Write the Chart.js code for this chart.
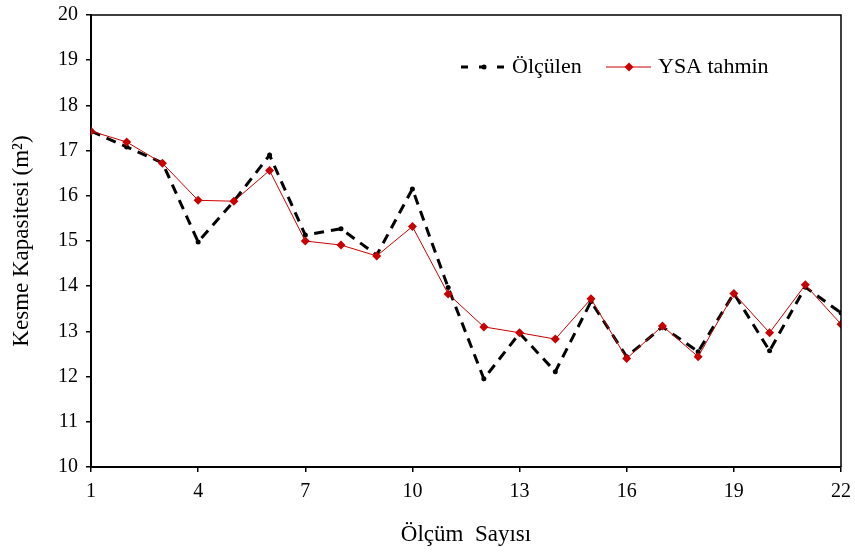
<!DOCTYPE html>
<html lang="tr">
<head>
  <meta charset="UTF-8" />
  <title>Kesme Kapasitesi</title>
  <script src="https://cdn.jsdelivr.net/npm/chart.js"></script>
  <style>
    html, body { margin: 0; padding: 0; background: #fff; }
    #wrap { width: 855px; height: 552px; }
  </style>
</head>
<body>
  <div id="wrap"><canvas id="chart" width="855" height="552"></canvas></div>

  <script>
    // measurement index 1..22
    const olcumNo = [1, 2, 3, 4, 5, 6, 7, 8, 9, 10, 11, 12, 13, 14, 15, 16, 17, 18, 19, 20, 21, 22];
    const olculen = [17.43, 17.08, 16.73, 14.98, 15.88, 16.90, 15.13, 15.27, 14.69, 16.15, 13.97,
                     11.95, 12.96, 12.11, 13.66, 12.44, 13.10, 12.55, 13.84, 12.57, 13.98, 13.41];
    const ysaTahmin = [17.43, 17.19, 16.72, 15.90, 15.88, 16.56, 15.00, 14.91, 14.67, 15.32, 13.83,
                       13.10, 12.97, 12.83, 13.72, 12.40, 13.12, 12.44, 13.84, 12.97, 14.03, 13.16];
    const seriesNames = ['Ölçülen', 'YSA tahmin'];

    const FONT = '"Liberation Serif", "Times New Roman", serif';
    const RED = '#C80000';

    function toPoints(vals) {
      return vals.map((v, i) => ({ x: olcumNo[i], y: v }));
    }

    // frame on top/right and the legend inside the plot
    const framePlugin = {
      id: 'frame',
      afterDatasetsDraw(chart) {
        const { ctx, chartArea: a } = chart;
        ctx.save();
        ctx.strokeStyle = '#000';
        ctx.lineWidth = 1.5;
        ctx.beginPath();
        ctx.moveTo(a.left, a.top);
        ctx.lineTo(a.right, a.top);
        ctx.lineTo(a.right, a.bottom);
        ctx.stroke();

        // legend
        const y = 67;
        ctx.font = '22px ' + FONT;
        ctx.textBaseline = 'middle';
        ctx.fillStyle = '#000';

        ctx.lineWidth = 3;
        ctx.setLineDash([7, 11]);
        ctx.beginPath();
        ctx.moveTo(461, y);
        ctx.lineTo(508, y);
        ctx.stroke();
        ctx.setLineDash([]);
        ctx.beginPath();
        ctx.arc(484, y, 2.5, 0, Math.PI * 2);
        ctx.fill();
        ctx.fillText(seriesNames[0], 512, y);

        ctx.strokeStyle = RED;
        ctx.lineWidth = 1;
        ctx.beginPath();
        ctx.moveTo(606, y);
        ctx.lineTo(651, y);
        ctx.stroke();
        ctx.fillStyle = RED;
        ctx.beginPath();
        ctx.moveTo(629, y - 4.5);
        ctx.lineTo(633.5, y);
        ctx.lineTo(629, y + 4.5);
        ctx.lineTo(624.5, y);
        ctx.closePath();
        ctx.fill();
        ctx.fillStyle = '#000';
        ctx.fillText(seriesNames[1], 658, y);
        ctx.restore();
      }
    };

    const ctx = document.getElementById('chart').getContext('2d');
    new Chart(ctx, {
      type: 'line',
      data: {
        datasets: [
          {
            label: seriesNames[0],
            data: toPoints(olculen),
            borderColor: '#000',
            backgroundColor: '#000',
            borderWidth: 3,
            borderDash: [10, 7],
            pointRadius: 2.5,
            pointBorderWidth: 0,
            order: 1
          },
          {
            label: seriesNames[1],
            data: toPoints(ysaTahmin),
            borderColor: RED,
            backgroundColor: RED,
            borderWidth: 1,
            pointStyle: 'rectRot',
            pointRadius: 4.5,
            pointBorderWidth: 0,
            order: 0
          }
        ]
      },
      options: {
        responsive: false,
        animation: false,
        layout: { padding: { left: 0, right: 14, top: 15, bottom: 0 } },
        plugins: {
          legend: { display: false },
          tooltip: { enabled: false }
        },
        scales: {
          x: {
            type: 'linear',
            min: 1,
            max: 22,
            afterFit(s) { s.height = 85; s.paddingRight = 0; s.paddingLeft = 0; },
            border: { color: '#000', width: 2 },
            grid: { drawOnChartArea: false, drawTicks: true, tickLength: 5, color: '#000', lineWidth: 1.5 },
            ticks: { stepSize: 3, color: '#000', padding: 8, maxRotation: 0, font: { family: FONT, size: 20 } },
            title: { display: true, text: 'Ölçüm  Sayısı', color: '#000', padding: { top: 0, bottom: 3 }, font: { family: FONT, size: 23 } }
          },
          y: {
            min: 10,
            max: 20,
            afterFit(s) { s.width = 91; s.paddingTop = 0; s.paddingBottom = 0; },
            border: { color: '#000', width: 2 },
            grid: { drawOnChartArea: false, drawTicks: true, tickLength: 5, color: '#000', lineWidth: 1.5 },
            ticks: { stepSize: 1, color: '#000', padding: 8, font: { family: FONT, size: 20 } },
            title: { display: true, text: 'Kesme Kapasitesi (m²)', color: '#000', padding: { top: 8, bottom: 0 }, font: { family: FONT, size: 23 } }
          }
        }
      },
      plugins: [framePlugin]
    });
  </script>
</body>
</html>
